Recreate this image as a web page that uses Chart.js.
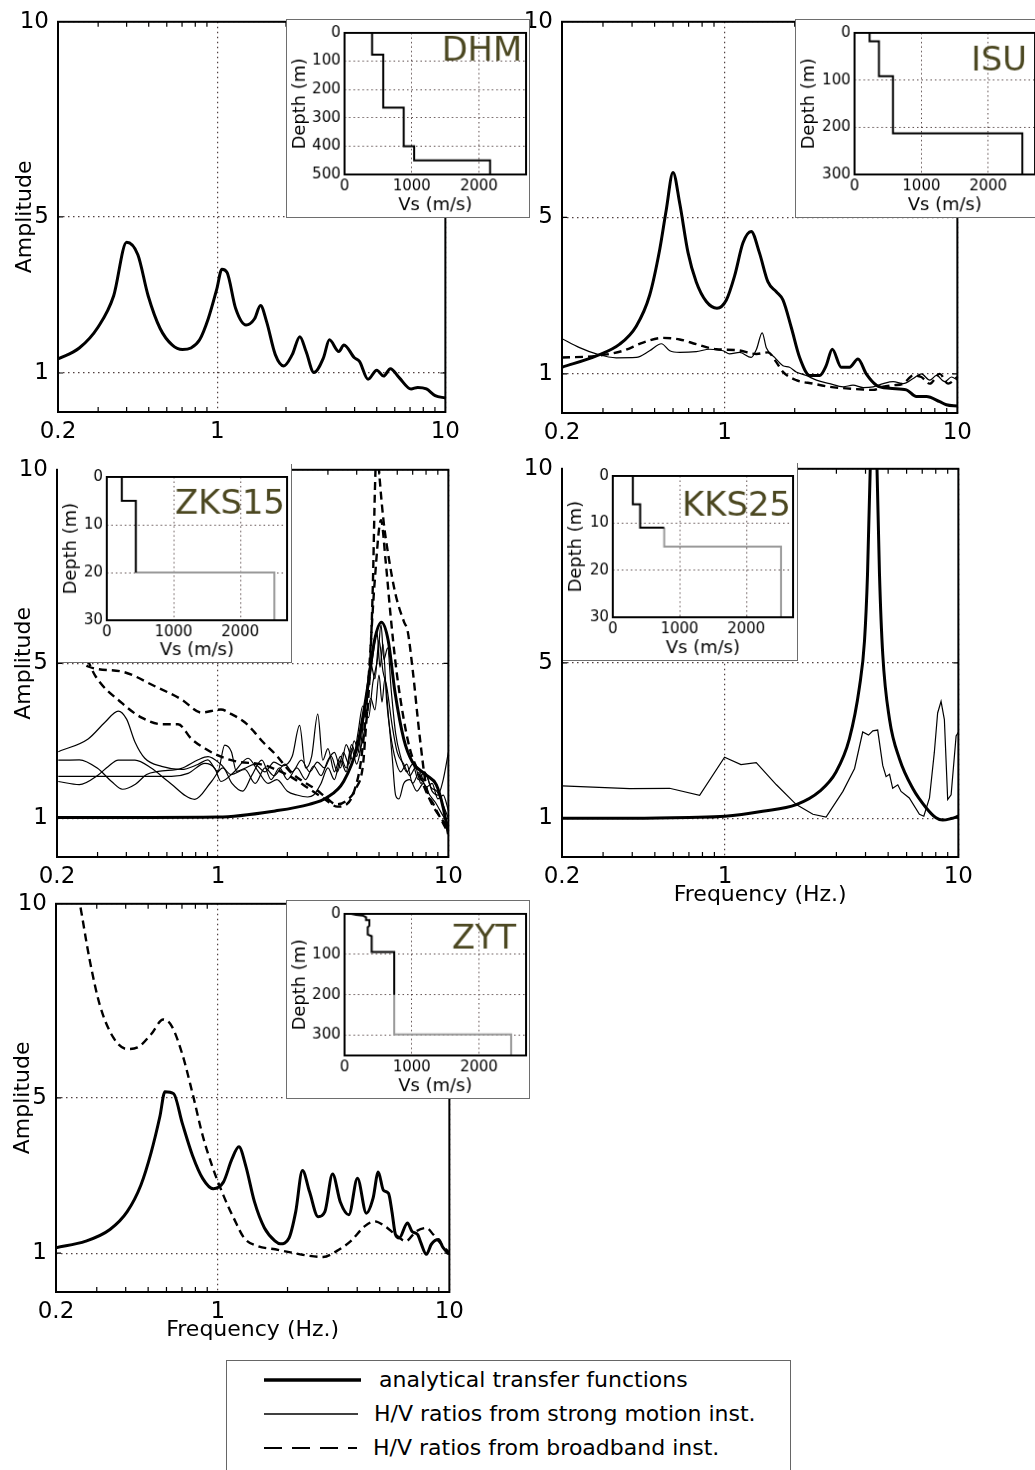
<!DOCTYPE html>
<html>
<head>
<meta charset="utf-8">
<script src="https://cdn.jsdelivr.net/npm/chart.js@4.4.0/dist/chart.umd.min.js"></script>
<style>
  body { margin: 0; background: #fff; width: 1035px; height: 1470px; position: relative; overflow: hidden; font-family: "DejaVu Sans", sans-serif; }
  canvas { position: absolute; }
  .inset { background: #fff; border: 1px solid #6e6e6e; }
  .inset.open { border-left: none; border-top: none; }
  #legend { position: absolute; left: 226px; top: 1360px; width: 563px; height: 120px; border: 1px solid #666; background: #fff; }
  #legend .lg { position: absolute; font-size: 22px; line-height: 26px; color: #000; white-space: nowrap; }
</style>
</head>
<body>
<div id="legend">
  <svg width="563" height="118" style="position:absolute;left:0;top:0">
    <line x1="37" y1="19" x2="134" y2="19" stroke="#000" stroke-width="3.5"/>
    <line x1="37" y1="53" x2="131" y2="53" stroke="#000" stroke-width="1.5"/>
    <line x1="37" y1="87" x2="130" y2="87" stroke="#000" stroke-width="2" stroke-dasharray="18 10"/>
  </svg>
  <div class="lg" style="left:152px;top:6px">analytical transfer functions</div>
  <div class="lg" style="left:147px;top:40px">H/V ratios from strong motion inst.</div>
  <div class="lg" style="left:146px;top:74px">H/V ratios from broadband inst.</div>
</div>
<script>
// ---- shared axis ticks ----
const freqTicks = [0.2, 1, 10];
const ampTicks = [1, 5, 10];
const minorFreqTicks = [0.3, 0.4, 0.5, 0.6, 0.7, 0.8, 0.9, 2, 3, 4, 5, 6, 7, 8, 9];
const vsTicks = [0, 1000, 2000];

// ---- DHM ----
const dhmFreq = [0.2, 0.248, 0.30, 0.351, 0.40, 0.448, 0.497, 0.561, 0.633, 0.703, 0.766, 0.836, 0.912, 0.994, 1.047, 1.104, 1.203, 1.336, 1.456, 1.546, 1.645, 1.795, 1.955, 2.13, 2.30, 2.45, 2.65, 2.92, 3.10, 3.41, 3.59, 3.99, 4.20, 4.58, 5.00, 5.36, 5.74, 6.27, 7.07, 7.57, 8.26, 9.02, 10];
const dhmAnalytic = [1.36, 1.64, 2.18, 2.98, 4.35, 4.03, 2.98, 2.14, 1.72, 1.60, 1.64, 1.85, 2.39, 3.15, 3.66, 3.57, 2.65, 2.23, 2.39, 2.73, 2.31, 1.47, 1.18, 1.47, 1.93, 1.55, 1.01, 1.39, 1.85, 1.55, 1.72, 1.39, 1.30, 0.84, 1.07, 0.92, 1.11, 0.88, 0.59, 0.63, 0.59, 0.42, 0.36];
const dhmVs = [410, 410, 575, 575, 880, 880, 1035, 1035, 2165, 2165];
const dhmDepth = [0, 77, 77, 264, 264, 400, 400, 450, 450, 500];
const dhmDepthTicks = [0, 100, 200, 300, 400, 500];

// ---- ISU ----
const isuFreq = [0.2, 0.281, 0.354, 0.417, 0.476, 0.526, 0.561, 0.600, 0.641, 0.696, 0.755, 0.834, 0.927, 1.017, 1.104, 1.199, 1.30, 1.41, 1.535, 1.667, 1.78, 1.935, 2.10, 2.32, 2.56, 2.73, 2.90, 3.17, 3.44, 3.74, 4.06, 4.49, 5.12, 6.04, 6.67, 7.36, 8.40, 8.97, 10];
const isuAnalytic = [1.17, 1.46, 1.76, 2.22, 3.01, 4.18, 5.19, 6.15, 5.36, 4.10, 3.35, 2.85, 2.68, 2.89, 3.51, 4.35, 4.64, 4.10, 3.35, 3.10, 2.89, 2.18, 1.42, 0.96, 0.96, 1.21, 1.63, 1.17, 1.17, 1.38, 1.00, 0.71, 0.63, 0.59, 0.42, 0.42, 0.29, 0.21, 0.18];
const isuStrongFreq = [0.2, 0.238, 0.281, 0.342, 0.417, 0.476, 0.535, 0.581, 0.641, 0.755, 0.862, 0.984, 1.05, 1.16, 1.30, 1.37, 1.45, 1.51, 1.64, 1.78, 1.90, 2.03, 2.24, 2.48, 2.83, 3.23, 3.56, 3.94, 4.35, 4.80, 5.30, 5.85, 6.46, 7.00, 7.61, 8.13, 8.83, 9.43, 10];
const isuStrong = [1.90, 1.67, 1.51, 1.41, 1.42, 1.59, 1.77, 1.59, 1.55, 1.57, 1.63, 1.59, 1.51, 1.55, 1.42, 1.63, 2.05, 1.67, 1.42, 1.21, 1.17, 1.05, 0.96, 0.84, 0.75, 0.67, 0.71, 0.65, 0.67, 0.75, 0.80, 0.75, 0.88, 1.00, 0.84, 0.96, 0.80, 0.92, 0.84];
const isuBroadFreq = [0.2, 0.281, 0.366, 0.446, 0.543, 0.641, 0.755, 0.921, 1.12, 1.37, 1.535, 1.667, 1.78, 2.03, 2.40, 2.83, 3.33, 3.94, 4.35, 4.80, 5.30, 5.85, 6.46, 7.00, 7.61, 8.40, 9.12, 10];
const isuBroad = [1.42, 1.46, 1.59, 1.80, 1.92, 1.88, 1.76, 1.63, 1.61, 1.51, 1.55, 1.30, 1.05, 0.84, 0.75, 0.67, 0.63, 0.60, 0.59, 0.67, 0.71, 0.75, 0.96, 0.92, 0.75, 1.00, 0.75, 0.92];
const isuVs = [225, 225, 365, 365, 575, 575, 2510, 2510];
const isuDepth = [0, 18, 18, 92, 92, 213, 213, 300];
const isuDepthTicks = [0, 100, 200, 300];

// ---- ZKS15 ----
const zksFreq = [0.2, 0.45, 1.0, 1.77, 2.49, 2.96, 3.51, 4.03, 4.47, 4.78, 5.12, 5.48, 5.87, 6.40, 6.97, 8.0, 8.87, 9.5, 10];
const zksAnalytic = [1.02, 1.02, 1.03, 1.19, 1.36, 1.53, 1.95, 2.88, 4.41, 5.59, 6.06, 5.59, 4.24, 3.05, 2.46, 2.12, 1.86, 1.27, 0.59];
const zksStrongAFreq = [0.2026, 0.273, 0.323, 0.369, 0.401, 0.436, 0.481, 0.569, 0.694, 0.817, 0.903, 0.998, 1.069, 1.143, 1.202, 1.306, 1.442, 1.6, 1.75, 1.9, 2.1, 2.26, 2.4, 2.55, 2.71, 2.85, 3.0, 3.2, 3.4, 3.6, 3.8, 4.0, 4.2, 4.4, 4.6, 4.8, 5.0, 5.2, 5.4, 5.7, 6.0, 6.4, 6.8, 7.2, 7.6, 8.0, 8.5, 9.0, 9.5, 10];
const zksStrongA = [2.72, 3.05, 3.48, 3.77, 3.56, 2.97, 2.55, 2.34, 2.26, 2.39, 2.51, 2.21, 2.89, 2.72, 2.21, 2.29, 2.39, 2.2, 2.45, 2.35, 2.6, 3.40, 2.3, 2.6, 3.69, 2.5, 2.8, 2.2, 2.6, 2.3, 2.9, 2.6, 3.3, 4.2, 5.0, 4.6, 5.6, 4.8, 4.4, 3.4, 2.7, 2.4, 2.1, 2.3, 1.9, 2.1, 1.7, 1.6, 2.0, 2.7];
const zksStrongBFreq = [0.2026, 0.25, 0.3, 0.345, 0.385, 0.438, 0.49, 0.55, 0.694, 0.82, 0.905, 1.03, 1.14, 1.31, 1.45, 1.6, 1.75, 1.95, 2.1, 2.3, 2.5, 2.7, 2.9, 3.1, 3.3, 3.5, 3.7, 3.9, 4.1, 4.3, 4.5, 4.7, 4.9, 5.05, 5.2, 5.4, 5.6, 5.9, 6.2, 6.6, 7.0, 7.5, 8.0, 8.5, 9.0, 9.5, 10];
const zksStrongB = [2.50, 2.51, 2.29, 1.95, 1.75, 1.88, 2.13, 2.21, 2.29, 2.51, 2.59, 2.39, 2.13, 2.26, 1.9, 2.3, 2.1, 2.4, 2.2, 2.5, 2.2, 2.45, 2.3, 2.6, 2.2, 2.7, 2.4, 3.0, 2.7, 3.6, 4.4, 5.2, 5.8, 4.9, 5.5, 4.0, 3.2, 2.5, 2.2, 2.4, 1.9, 2.2, 1.8, 1.9, 1.5, 1.6, 1.2];
const zksStrongCFreq = [0.2026, 0.4, 0.628, 0.741, 0.878, 0.968, 1.03, 1.18, 1.35, 1.5, 1.65, 1.8, 2.0, 2.2, 2.45, 2.6, 2.8, 3.0, 3.2, 3.4, 3.6, 3.8, 4.0, 4.2, 4.4, 4.6, 4.8, 5.0, 5.15, 5.3, 5.5, 5.7, 5.9, 6.1, 6.4, 6.8, 7.3, 7.8, 8.3, 8.8, 9.4, 10];
const zksStrongC = [2.08, 2.08, 2.08, 2.16, 2.42, 2.29, 1.95, 2.21, 2.55, 2.2, 1.9, 2.0, 1.7, 1.6, 1.55, 1.6, 1.9, 2.3, 2.0, 2.5, 2.2, 2.8, 2.4, 2.9, 3.5, 4.1, 3.8, 4.7, 4.0, 4.6, 3.6, 2.6, 1.6, 1.5, 1.9, 2.0, 1.7, 1.9, 1.6, 1.4, 1.1, 0.85];
const zksStrongDFreq = [0.2026, 0.25, 0.302, 0.334, 0.369, 0.436, 0.515, 0.608, 0.793, 0.937, 1.05, 1.15, 1.28, 1.4, 1.55, 1.7, 1.85, 2.0, 2.2, 2.4, 2.6, 2.8, 3.0, 3.2, 3.4, 3.6, 3.85, 4.05, 4.25, 4.5, 4.7, 4.95, 5.1, 5.25, 5.45, 5.65, 5.9, 6.2, 6.6, 7.0, 7.4, 7.9, 8.4, 8.9, 9.4, 10];
const zksStrongD = [1.95, 1.87, 2.12, 2.34, 2.50, 2.50, 2.29, 1.95, 1.49, 1.95, 2.3, 1.9, 1.7, 2.1, 2.5, 2.0, 2.3, 2.0, 2.3, 2.0, 2.35, 2.1, 2.5, 2.7, 2.3, 2.9, 2.5, 3.2, 3.9, 3.6, 4.5, 5.2, 6.0, 5.1, 5.4, 4.3, 3.2, 2.6, 2.2, 2.4, 2.0, 2.2, 1.8, 1.7, 1.4, 1.0];
const zksBroadAFreq = [0.2, 0.25, 0.292, 0.382, 0.466, 0.569, 0.671, 0.767, 0.878, 1.03, 1.22, 1.52, 1.8, 2.1, 2.5, 2.9, 3.3, 3.6, 3.9, 4.2, 4.5, 4.8, 5.1, 5.35, 5.6, 5.9, 6.3, 6.8, 7.4, 8.0, 8.6, 9.3, 10];
const zksBroadA = [6.6, 5.6, 4.70, 3.98, 3.60, 3.43, 3.43, 3.05, 2.80, 2.59, 2.46, 2.40, 2.25, 2.05, 1.75, 1.50, 1.30, 1.35, 1.70, 2.6, 4.6, 7.2, 8.7, 7.6, 6.3, 5.0, 3.8, 2.8, 2.2, 1.7, 1.3, 1.0, 0.75];
const zksBroadBFreq = [0.2, 0.245, 0.273, 0.382, 0.532, 0.694, 0.848, 1.03, 1.143, 1.306, 1.442, 1.567, 1.79, 2.05, 2.34, 2.67, 2.95, 3.26, 3.6, 3.98, 4.26, 4.39, 4.55, 4.7, 4.8, 4.9, 4.97, 5.22, 5.49, 5.9, 6.43, 6.65, 7.0, 7.5, 8.04, 8.62, 9.53, 10];
const zksBroadB = [5.6, 5.2, 4.92, 4.79, 4.41, 4.07, 3.73, 3.81, 3.69, 3.48, 3.22, 2.97, 2.63, 2.21, 1.95, 1.74, 1.53, 1.36, 1.45, 1.78, 2.38, 3.39, 4.66, 7.0, 9.5, 10.8, 10.2, 8.73, 7.79, 6.78, 6.06, 5.85, 4.83, 3.14, 1.78, 1.36, 0.85, 0.61];
const zksVs = [225, 225, 435, 435];
const zksDepth = [0, 5, 5, 20];
const zksVsHalf = [435, 2510, 2510];
const zksDepthHalf = [20, 20, 30];
const zksDepthTicks = [0, 10, 20, 30];

// ---- KKS25 ----
const kksFreq = [0.2, 0.4, 0.7, 1.0, 1.45, 2.02, 2.54, 2.99, 3.41, 3.77, 3.96, 4.08, 4.19, 4.33, 4.48, 4.59, 4.74, 5.07, 5.59, 6.37, 7.27, 8.02, 8.57, 9.31, 10];
const kksAnalytic = [1.0, 1.0, 1.02, 1.05, 1.18, 1.35, 1.69, 2.19, 3.04, 4.39, 5.57, 7.3, 10, 15, 10, 7.3, 5.23, 3.54, 2.53, 1.77, 1.27, 1.01, 0.95, 0.99, 1.05];
const kksStrongFreq = [0.2, 0.39, 0.578, 0.778, 0.995, 1.17, 1.36, 1.66, 2.02, 2.38, 2.71, 3.20, 3.59, 3.89, 4.12, 4.30, 4.51, 4.74, 4.90, 5.07, 5.23, 5.50, 5.68, 6.16, 6.81, 7.11, 7.52, 7.89, 8.15, 8.43, 8.71, 9.0, 9.31, 9.78, 10];
const kksStrong = [1.83, 1.76, 1.77, 1.59, 2.57, 2.38, 2.43, 1.86, 1.35, 1.10, 1.03, 1.69, 2.28, 3.22, 3.14, 3.25, 3.27, 2.36, 2.07, 2.13, 1.77, 1.86, 1.69, 1.52, 1.10, 1.05, 1.52, 2.70, 3.71, 4.01, 3.54, 1.48, 1.60, 3.12, 3.21];
const kksVs = [300, 300, 410, 410, 770];
const kksDepth = [0, 6, 6, 11, 11];
const kksVsHalf = [770, 770, 2520, 2520];
const kksDepthHalf = [11, 15, 15, 30];
const kksDepthTicks = [0, 10, 20, 30];

// ---- ZYT ----
const zytFreq = [0.2, 0.269, 0.342, 0.406, 0.465, 0.515, 0.562, 0.591, 0.644, 0.702, 0.778, 0.861, 0.955, 1.057, 1.15, 1.233, 1.32, 1.44, 1.59, 1.77, 1.86, 2.03, 2.17, 2.32, 2.49, 2.71, 2.90, 3.13, 3.38, 3.68, 4.01, 4.38, 4.68, 4.93, 5.19, 5.46, 5.65, 5.85, 6.07, 6.59, 6.90, 7.30, 7.53, 7.96, 8.36, 8.97, 9.4, 10];
const zytAnalytic = [1.14, 1.31, 1.61, 2.07, 2.75, 3.59, 4.52, 5.16, 5.11, 4.35, 3.51, 2.92, 2.66, 2.83, 3.42, 3.74, 3.25, 2.32, 1.65, 1.31, 1.24, 1.39, 2.07, 3.13, 2.58, 1.94, 2.07, 3.04, 2.32, 1.99, 2.93, 2.03, 2.41, 3.09, 2.62, 2.54, 2.07, 1.48, 1.39, 1.78, 1.56, 1.48, 1.27, 0.97, 1.23, 1.35, 1.14, 0.97];
const zytBroadFreq = [0.2, 0.2515, 0.279, 0.309, 0.354, 0.406, 0.450, 0.515, 0.581, 0.632, 0.702, 0.778, 0.861, 0.955, 1.057, 1.172, 1.30, 1.49, 1.77, 2.10, 2.49, 2.85, 3.27, 3.75, 4.30, 4.76, 5.28, 5.85, 6.48, 7.18, 7.96, 8.52, 9.12, 10];
const zytBroad = [12.5, 10.1, 8.58, 7.40, 6.55, 6.26, 6.30, 6.64, 7.02, 6.85, 6.13, 5.11, 4.02, 3.17, 2.49, 1.90, 1.39, 1.18, 1.10, 1.01, 0.93, 0.90, 1.06, 1.31, 1.69, 1.82, 1.69, 1.48, 1.31, 1.56, 1.65, 1.48, 1.27, 1.01];
const zytVs = [100, 172, 271, 320, 320, 369, 369, 345, 345, 404, 404, 739, 739];
const zytDepth = [0, 2.5, 4, 8, 15, 15, 29, 33, 51, 55, 94, 94, 200];
const zytVsHalf = [739, 739, 2478, 2478];
const zytDepthHalf = [200, 298, 298, 350];
const zytDepthTicks = [0, 100, 200, 300];

const FONT = "'DejaVu Sans', sans-serif";

function pts(xs, ys) { return xs.map((x, i) => ({ x: x, y: ys[i] })); }

// frame + minor ticks + station label
const framePlugin = {
  id: 'frame',
  afterDatasetsDraw(chart, args, opts) {
    const ctx = chart.ctx, a = chart.chartArea;
    ctx.save();
    ctx.strokeStyle = '#000';
    if (opts.minorX) {
      const xs = chart.scales.x, ys = chart.scales.y;
      ctx.lineWidth = 1.2;
      ctx.beginPath();
      opts.minorX.forEach(v => {
        const px = xs.getPixelForValue(v);
        ctx.moveTo(px, a.top); ctx.lineTo(px, a.top + 5);
        ctx.moveTo(px, a.bottom); ctx.lineTo(px, a.bottom - 5);
      });
      [1, 5].forEach(v => {
        const py = ys.getPixelForValue(v);
        ctx.moveTo(a.left, py); ctx.lineTo(a.left + 5, py);
        ctx.moveTo(a.right, py); ctx.lineTo(a.right - 5, py);
      });
      ctx.stroke();
    }
    ctx.lineWidth = opts.width || 2;
    ctx.strokeRect(a.left, a.top, a.right - a.left, a.bottom - a.top);
    if (opts.label) {
      ctx.fillStyle = '#4b4720';
      ctx.font = '34px ' + FONT;
      ctx.textAlign = 'right';
      ctx.textBaseline = 'alphabetic';
      ctx.fillText(opts.label, a.right - opts.labelDx, a.top + opts.labelDy);
    }
    ctx.restore();
  }
};

function addCanvas(left, top, w, h, cls) {
  const c = document.createElement('canvas');
  c.width = w; c.height = h;
  c.style.left = left + 'px';
  c.style.top = top + 'px';
  if (cls) c.className = cls;
  document.body.appendChild(c);
  return c;
}

const thick = (data) => ({ data, borderColor: '#000', borderWidth: 3, pointRadius: 0, cubicInterpolationMode: 'monotone' });
const thin = (data) => ({ data, borderColor: '#000', borderWidth: 1.2, pointRadius: 0, cubicInterpolationMode: 'monotone' });
const thinStraight = (data) => ({ data, borderColor: '#000', borderWidth: 1.2, pointRadius: 0, tension: 0 });
const dashed = (data) => ({ data, borderColor: '#000', borderWidth: 2.4, borderDash: [8, 5], pointRadius: 0, cubicInterpolationMode: 'monotone' });

function mainChart(p, datasets) {
  const padTop = 16, padRight = 20, yW = 58, xH = p.xTitle ? 62 : 46;
  const c = addCanvas(p.L - yW, p.T - padTop, (p.R - p.L) + yW + padRight, (p.B - p.T) + padTop + xH);
  const grid = { drawTicks: false, color: 'rgba(50,30,30,0.85)', lineWidth: 1.2 };
  return new Chart(c, {
    type: 'line',
    data: { datasets },
    plugins: [framePlugin],
    options: {
      responsive: false,
      animation: false,
      layout: { padding: { top: padTop, right: padRight, left: 0, bottom: 0 } },
      plugins: { legend: { display: false }, tooltip: { enabled: false }, frame: { minorX: minorFreqTicks, width: 2 } },
      scales: {
        x: {
          type: 'logarithmic', min: 0.2, max: 10,
          afterBuildTicks: s => { s.ticks = freqTicks.map(v => ({ value: v })); },
          afterFit: s => { s.height = xH; },
          ticks: { autoSkip: false, maxRotation: 0, padding: 6, color: '#000', font: { size: 23, family: FONT }, callback: v => String(v) },
          grid: grid,
          border: { display: false, dash: [1.5, 3.5] },
          title: { display: !!p.xTitle, text: 'Frequency (Hz.)', color: '#000', font: { size: 22, family: FONT }, padding: { top: 0, bottom: 11 } }
        },
        y: {
          type: 'linear', min: 0, max: 10,
          afterBuildTicks: s => { s.ticks = ampTicks.map(v => ({ value: v })); },
          afterFit: s => { s.width = yW; },
          ticks: { autoSkip: false, padding: 9, color: '#000', font: { size: 23, family: FONT }, callback: v => String(v) },
          grid: grid,
          border: { display: false, dash: [1.5, 3.5] },
          title: { display: !!p.yTitle, text: 'Amplitude', color: '#000', font: { size: 22, family: FONT }, padding: { top: 12, bottom: 0 } }
        }
      }
    }
  });
}

function insetChart(b, depthMax, depthTicks, datasets, label, labelDx, labelDy) {
  const c = addCanvas(b.x, b.y, b.w, b.h, b.open ? 'inset open' : 'inset');
  const grid = { drawTicks: false, color: 'rgba(50,30,30,0.8)', lineWidth: 1 };
  return new Chart(c, {
    type: 'line',
    data: { datasets },
    plugins: [framePlugin],
    options: {
      responsive: false,
      animation: false,
      layout: { padding: { top: b.t, right: b.r, left: 0, bottom: 0 } },
      plugins: { legend: { display: false }, tooltip: { enabled: false }, frame: { width: 2, label, labelDx, labelDy } },
      scales: {
        x: {
          type: 'linear', min: 0, max: 2700,
          afterBuildTicks: s => { s.ticks = vsTicks.map(v => ({ value: v })); },
          afterFit: s => { s.height = b.b; },
          ticks: { autoSkip: false, maxRotation: 0, padding: 3, color: '#000', font: { size: 15, family: FONT }, callback: v => String(v) },
          grid: grid,
          border: { display: false, dash: [1.5, 3] },
          title: { display: true, text: 'Vs (m/s)', color: '#000', font: { size: 18, family: FONT }, padding: { top: 0, bottom: 1 } }
        },
        y: {
          type: 'linear', min: 0, max: depthMax, reverse: true,
          afterBuildTicks: s => { s.ticks = depthTicks.map(v => ({ value: v })); },
          afterFit: s => { s.width = b.l; },
          ticks: { autoSkip: false, padding: 4, color: '#000', font: { size: 15, family: FONT }, callback: v => String(v) },
          grid: grid,
          border: { display: false, dash: [1.5, 3] },
          title: { display: true, text: 'Depth (m)', color: '#000', font: { size: 18, family: FONT }, padding: { top: 3, bottom: 0 } }
        }
      }
    }
  });
}

const prof = (data, color) => ({ data, borderColor: color, borderWidth: 2, pointRadius: 0, tension: 0 });

// main panels
mainChart({ L: 58, T: 15, R: 446, B: 412, yTitle: true }, [
  thick(pts(dhmFreq, dhmAnalytic))
]);
mainChart({ L: 562, T: 15, R: 958, B: 413 }, [
  thin(pts(isuStrongFreq, isuStrong)),
  dashed(pts(isuBroadFreq, isuBroad)),
  thick(pts(isuFreq, isuAnalytic))
]);
mainChart({ L: 57, T: 463, R: 449, B: 857, yTitle: true }, [
  thin(pts(zksStrongAFreq, zksStrongA)),
  thin(pts(zksStrongBFreq, zksStrongB)),
  thin(pts(zksStrongCFreq, zksStrongC)),
  thin(pts(zksStrongDFreq, zksStrongD)),
  dashed(pts(zksBroadAFreq, zksBroadA)),
  dashed(pts(zksBroadBFreq, zksBroadB)),
  thick(pts(zksFreq, zksAnalytic))
]);
mainChart({ L: 562, T: 462, R: 959, B: 857, xTitle: true }, [
  thinStraight(pts(kksStrongFreq, kksStrong)),
  thick(pts(kksFreq, kksAnalytic))
]);
mainChart({ L: 56, T: 897, R: 450, B: 1292, yTitle: true, xTitle: true }, [
  dashed(pts(zytBroadFreq, zytBroad)),
  thick(pts(zytFreq, zytAnalytic))
]);

// insets (velocity profiles)
insetChart({ x: 286, y: 19, w: 244, h: 199, l: 58, t: 12, r: 3, b: 43 }, 500, dhmDepthTicks,
  [prof(pts(dhmVs, dhmDepth), '#000')], 'DHM', 4, 28);
insetChart({ x: 795, y: 19, w: 244, h: 199, l: 59, t: 12, r: 3, b: 43 }, 300, isuDepthTicks,
  [prof(pts(isuVs, isuDepth), '#000')], 'ISU', 8, 38);
insetChart({ x: 58, y: 464, w: 234, h: 199, l: 49, t: 13, r: 4, b: 42, open: true }, 30, zksDepthTicks,
  [prof(pts(zksVs, zksDepth), '#000'), prof(pts(zksVsHalf, zksDepthHalf), '#999')], 'ZKS15', 2, 37);
insetChart({ x: 563, y: 463, w: 235, h: 198, l: 50, t: 12, r: 4, b: 43, open: true }, 30, kksDepthTicks,
  [prof(pts(kksVs, kksDepth), '#000'), prof(pts(kksVsHalf, kksDepthHalf), '#999')], 'KKS25', 2, 40);
insetChart({ x: 286, y: 900, w: 244, h: 199, l: 58, t: 13, r: 3, b: 43 }, 350, zytDepthTicks,
  [prof(pts(zytVs, zytDepth), '#000'), prof(pts(zytVsHalf, zytDepthHalf), '#999')], 'ZYT', 10, 35);
</script>
</body>
</html>
